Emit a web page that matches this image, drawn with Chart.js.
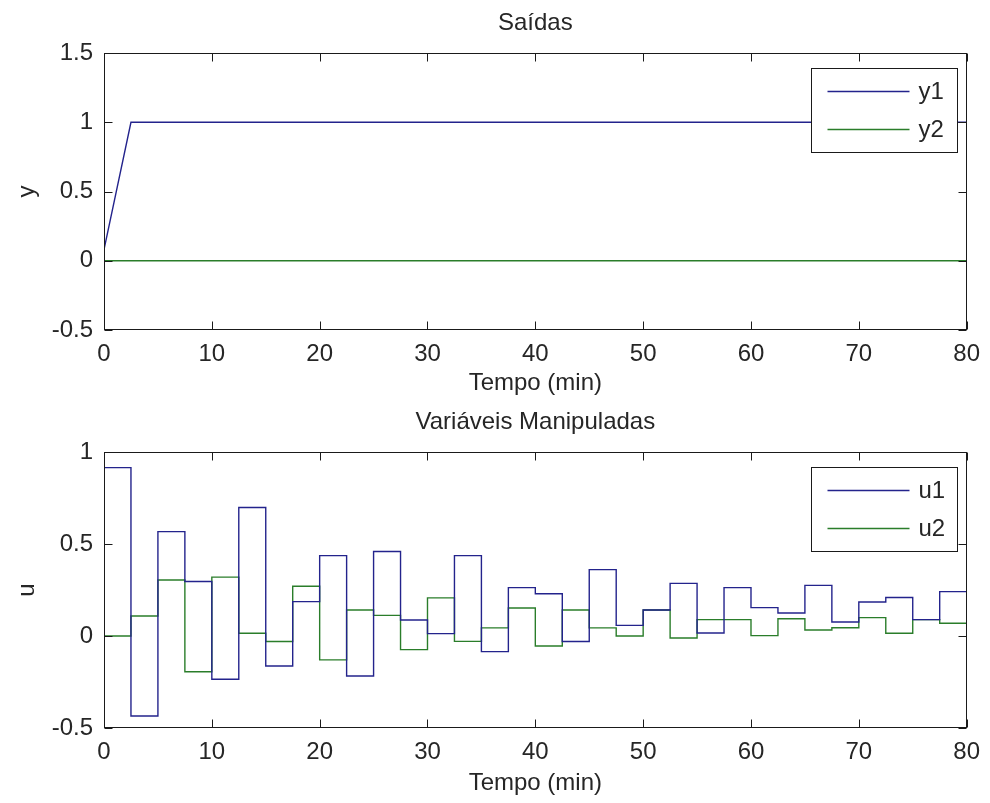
<!DOCTYPE html>
<html>
<head>
<meta charset="utf-8">
<script src="https://cdn.jsdelivr.net/npm/chart.js@4.4.1/dist/chart.umd.min.js"></script>
<style>
  html, body { margin: 0; padding: 0; background: #ffffff; }
  #wrap { position: relative; width: 990px; height: 803px; overflow: hidden; background: #fff; }
  #c1 { position: absolute; left: 0; top: 0; }
  #c2 { position: absolute; left: 0; top: 399px; }
</style>
</head>
<body>
<div id="wrap">
  <canvas id="c1" width="990" height="399"></canvas>
  <canvas id="c2" width="990" height="404"></canvas>
</div>
<script>
// ---------- data ----------
// Top plot: outputs
const tOut = [0, 2.5, 80];
const y1 = [0.08, 1, 1];
const y2 = [0, 0, 0];

// Bottom plot: manipulated variables, zero-order hold (value holds from start time to next start)
const tStep = [0, 2.5, 5, 7.5, 10, 12.5, 15, 17.5, 20, 22.5, 25, 27.5, 30, 32.5, 35, 37.5,
               40, 42.5, 45, 47.5, 50, 52.5, 55, 57.5, 60, 62.5, 65, 67.5, 70, 72.5, 75, 77.5];
const tEnd = 80;
const u1 = [0.915, -0.435, 0.567, 0.296, -0.235, 0.698, -0.163, 0.187, 0.437, -0.217, 0.459, 0.087,
            0.013, 0.437, -0.085, 0.263, 0.23, -0.03, 0.361, 0.058, 0.141, 0.286, 0.016, 0.263,
            0.154, 0.125, 0.275, 0.076, 0.185, 0.209, 0.089, 0.241];
const u2 = [0, 0.109, 0.304, -0.194, 0.32, 0.015, -0.03, 0.27, -0.13, 0.141, 0.112, -0.074,
            0.207, -0.029, 0.044, 0.152, -0.054, 0.141, 0.044, 0.0, 0.141, -0.011, 0.089, 0.089,
            0.002, 0.094, 0.033, 0.045, 0.1, 0.015, 0.089, 0.069];

const xTicks = [0, 10, 20, 30, 40, 50, 60, 70, 80];
const topTitle = 'Saídas';
const bottomTitle = 'Variáveis Manipuladas';
const xLabel = 'Tempo (min)';
const yLabelTop = 'y';
const yLabelBottom = 'u';
const seriesTop = ['y1', 'y2'];
const seriesBottom = ['u1', 'u2'];

// ---------- helpers ----------
const BLUE = '#23238c';
const GREEN = '#2a7d2a';
const TXT = '#262626';
const FONT = '"Liberation Sans", Arial, Helvetica, sans-serif';
const FS = 24;

function linePts(xs, ys) { return xs.map((x, i) => ({ x: x, y: ys[i] })); }
function stairPts(starts, end, vals) {
  const pts = [];
  for (let i = 0; i < starts.length; i++) {
    const next = i + 1 < starts.length ? starts[i + 1] : end;
    pts.push({ x: starts[i], y: vals[i] });
    pts.push({ x: next, y: vals[i] });
  }
  return pts;
}

const framePlugin = {
  id: 'frame',
  afterDatasetsDraw(chart) {
    const { ctx, chartArea: a, scales } = chart;
    const xs = scales.x, ys = scales.y;
    const L = Math.round(a.left) + 0.5, R = Math.round(a.right) - 0.5;
    const T = Math.round(a.top) + 0.5, B = Math.round(a.bottom) - 0.5;
    const tl = 8;
    ctx.save();
    ctx.strokeStyle = '#1a1a1a';
    ctx.lineWidth = 1;
    ctx.strokeRect(L, T, R - L, B - T);
    ctx.beginPath();
    xs.ticks.forEach(t => {
      const px = Math.round(xs.getPixelForValue(t.value)) + 0.5;
      ctx.moveTo(px, B); ctx.lineTo(px, B - tl);
      ctx.moveTo(px, T); ctx.lineTo(px, T + tl);
    });
    ys.ticks.forEach(t => {
      const py = Math.round(ys.getPixelForValue(t.value)) + 0.5;
      ctx.moveTo(L, py); ctx.lineTo(L + tl, py);
      ctx.moveTo(R, py); ctx.lineTo(R - tl, py);
    });
    ctx.stroke();

    // legend box (upper right, inside axes)
    const bw = 146, bh = 84;
    const bx = Math.round(a.right - 10 - bw) + 0.5;
    const by = Math.round(a.top + 15) + 0.5;
    ctx.fillStyle = '#ffffff';
    ctx.fillRect(bx, by, bw, bh);
    ctx.strokeStyle = '#1a1a1a';
    ctx.strokeRect(bx, by, bw, bh);
    const rows = [22, 60];
    chart.data.datasets.forEach((ds, i) => {
      const yy = Math.round(by + rows[i]) + 0.5;
      ctx.strokeStyle = ds.borderColor;
      ctx.lineWidth = 1.4;
      ctx.beginPath();
      ctx.moveTo(bx + 16, yy); ctx.lineTo(bx + 98, yy);
      ctx.stroke();
      ctx.fillStyle = TXT;
      ctx.font = FS + 'px ' + FONT;
      ctx.textAlign = 'left';
      ctx.textBaseline = 'middle';
      ctx.fillText(ds.label, bx + 107, yy + 1);
    });
    ctx.restore();
  }
};

function makeChart(canvasId, titleText, yLabel, datasets, yMin, yMax, xHeight, xTitleBottom) {
  return new Chart(document.getElementById(canvasId), {
    type: 'line',
    data: { datasets: datasets },
    options: {
      responsive: false,
      animation: false,
      layout: { padding: { left: 0, right: 18, top: 0, bottom: 0 } },
      elements: { point: { radius: 0 }, line: { tension: 0 } },
      plugins: {
        legend: { display: false },
        tooltip: { enabled: false },
        title: {
          display: true, text: titleText, color: TXT, fullSize: false,
          font: { family: FONT, size: FS, weight: 'normal' },
          padding: { top: 8.6, bottom: 15.6 }
        }
      },
      scales: {
        x: {
          type: 'linear', min: 0, max: 80,
          afterBuildTicks: s => { s.ticks = xTicks.map(v => ({ value: v })); },
          grid: { display: false, drawTicks: false },
          border: { display: false },
          ticks: { color: TXT, font: { family: FONT, size: FS }, padding: 10, maxRotation: 0, autoSkip: false },
          title: { display: true, text: xLabel, color: TXT, font: { family: FONT, size: FS },
                   padding: { top: 0, bottom: xTitleBottom } },
          afterFit: s => { s.height = xHeight; }
        },
        y: {
          type: 'linear', min: yMin, max: yMax,
          grid: { display: false, drawTicks: false },
          border: { display: false },
          ticks: { stepSize: 0.5, color: TXT, font: { family: FONT, size: FS }, padding: 11,
                   callback: v => String(Math.round(v * 10) / 10) },
          title: { display: true, text: yLabel, color: TXT, font: { family: FONT, size: FS },
                   padding: { top: 12.6, bottom: 0 } },
          afterFit: s => { s.width = 104; }
        }
      }
    },
    plugins: [framePlugin]
  });
}

makeChart('c1', topTitle, yLabelTop, [
  { label: seriesTop[0], data: linePts(tOut, y1), borderColor: BLUE, borderWidth: 1.4, fill: false },
  { label: seriesTop[1], data: linePts(tOut, y2), borderColor: GREEN, borderWidth: 1.4, fill: false }
], -0.5, 1.5, 69, 1);

makeChart('c2', bottomTitle, yLabelBottom, [
  { label: seriesBottom[0], data: stairPts(tStep, tEnd, u1), borderColor: BLUE, borderWidth: 1.4, fill: false },
  { label: seriesBottom[1], data: stairPts(tStep, tEnd, u2), borderColor: GREEN, borderWidth: 1.4, fill: false }
], -0.5, 1, 75, 5.6);
</script>
</body>
</html>
